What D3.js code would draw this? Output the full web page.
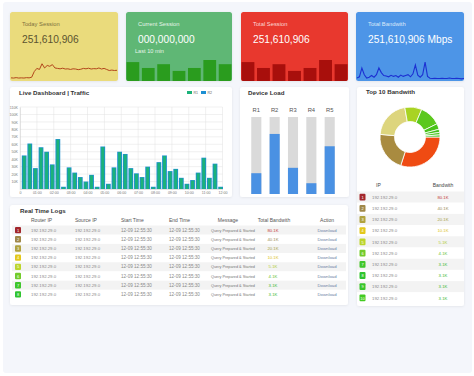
<!DOCTYPE html>
<html>
<head>
<meta charset="utf-8">
<script src="https://cdn.jsdelivr.net/npm/d3@7"></script>
<style>
  html, body { margin: 0; padding: 0; background: #fff; }
  svg { display: block; font-family: "Liberation Sans", Arial, sans-serif; }
</style>
</head>
<body>
<div id="chart"></div>
<script>
// ---- data ----
let todaySession = [15, 14, 16, 14, 15, 14, 16, 15, 18, 45, 60, 55, 82, 62, 74, 70, 78, 62, 60, 58, 61, 57,
  58, 55, 58, 57, 54, 56, 60, 58, 61, 57, 59, 58, 62, 57, 60, 55, 50, 52, 50, 51];
let currentSession = [90, 62, 80, 48, 62, 100, 80];
let totalSession = [90, 62, 80, 48, 62, 100, 80];
let totalBandwidth = [14, 20, 62, 30, 14, 18, 26, 18, 30, 62, 40, 26, 24, 20, 27, 22, 26, 18, 28, 22, 26, 30,
  20, 34, 76, 28, 18, 30, 90, 22, 13, 12, 13, 12, 12, 13, 12, 12, 14, 12, 12, 13, 12, 10, 12];

let cardTitles = ["Today Session", "Current Session", "Total Session", "Total Bandwith"];
let cardValues = ["251,610,906", "000,000,000", "251,610,906", "251,610,906 Mbps"];

let trafficR1 = [45, 61, 28, 56, 50, 33, 67, 3, 29, 22, 16, 10, 19, 3, 57, 7, 29, 50, 47, 28, 21, 16, 30, 3,
  36, 45, 24, 27, 15, 7, 12, 22, 42, 15, 34, 3]; // in K
let trafficR2 = [45, 61, 28, 56, 50, 33, 67, 3, 29, 22, 16, 10, 19, 3, 57, 7, 29, 50, 47, 28, 21, 16, 30, 3,
  36, 45, 24, 27, 15, 7, 12, 22, 42, 15, 34, 3];
let hourLabels = ["0", "01:00", "02:00", "03:00", "04:00", "05:00", "06:00", "07:00", "08:00", "09:00", "10:00", "11:00", "12:00"];
let trafficTicks = [0, 10, 20, 30, 40, 50, 60, 70, 80, 90, 100, 110];

let devices = ["R1", "R2", "R3", "R4", "R5"];
let deviceLoad = [27, 78, 34, 14, 62];

let topShares = [108, 77, 75, 33, 41, 11, 6, 5, 4];
let topColors = ["#ef4b13", "#a98b40", "#ddd57d", "#a9d323", "#5cc81e", "#4ac31a", "#3fc018", "#4ac620", "#37bd16"];

let ranks = [1, 2, 3, 4, 5, 6, 7, 8, 9, 10];
let rankColors = ["#a3262c", "#a08849", "#b0a23e", "#e3c81c", "#bcd52a", "#72cb2b", "#3fc62b", "#2fc42f", "#38c52a", "#42ca20"];
let bwValues = ["80.1K", "40.1K", "20.1K", "10.1K", "5.1K", "4.1K", "3.1K", "3.1K", "3.1K", "3.1K"];
let bwColors = ["#c33a36", "#9a8a52", "#a8a042", "#dcc41e", "#b0cc34", "#66c032", "#3cb832", "#3cb832", "#3cb832", "#3cb832"];
let ipText = "192.192.29.0";
let timeText = "12-09 12:55:30";
let msgText = "Query Prepared & Started";
let logHeaders = ["Router IP", "Source IP", "Start Time", "End Time", "Message", "Total Bandwith", "Action"];

// ---- svg ----
let svg = d3.select("#chart").append("svg").attr("width", 474).attr("height", 376);
let defs = svg.append("defs");
defs.append("filter").attr("id", "sh").attr("x", "-5%").attr("y", "-5%").attr("width", "110%").attr("height", "115%")
  .append("feDropShadow").attr("dx", 0).attr("dy", 0.5).attr("stdDeviation", 0.8)
  .attr("flood-color", "#000").attr("flood-opacity", 0.08);

svg.append("rect").attr("width", 474).attr("height", 376).attr("fill", "#fff");
svg.append("rect").attr("x", 3).attr("y", 2).attr("width", 469).attr("height", 371).attr("rx", 3).attr("fill", "#f4f6fb");

// ---- top cards ----
let cards = [
  { x: 10, w: 108, fill: "#eadb7c", title: "#7d7140", value: "#5b5330" },
  { x: 126, w: 106, fill: "#5fb775", title: "#e6f4e8", value: "#fff" },
  { x: 241, w: 107, fill: "#e8392d", title: "#fbd9d5", value: "#fff" },
  { x: 356, w: 108, fill: "#4e95e7", title: "#dce9fa", value: "#fff" }
];
let cardY = 12, cardH = 69;

cards.forEach(function (c, i) {
  defs.append("clipPath").attr("id", "clip" + i)
    .append("rect").attr("x", c.x).attr("y", cardY).attr("width", c.w).attr("height", cardH).attr("rx", 2.5);
  let g = svg.append("g");
  g.append("rect").attr("x", c.x).attr("y", cardY).attr("width", c.w).attr("height", cardH)
    .attr("rx", 2.5).attr("fill", c.fill).attr("filter", "url(#sh)");
  g.append("text").attr("x", c.x + 12).attr("y", 26).attr("font-size", 5.8).attr("fill", c.title).text(cardTitles[i]);
  g.append("text").attr("x", c.x + 12).attr("y", 42.5).attr("font-size", 10.2).attr("fill", c.value).text(cardValues[i]);
  c.g = g.append("g").attr("clip-path", "url(#clip" + i + ")");
});
svg.append("text").attr("x", 135).attr("y", 53).attr("font-size", 5.6).attr("fill", "#e6f4e8").text("Last 10 min");

// card 1 sparkline
let sx1 = d3.scaleLinear().domain([0, todaySession.length - 1]).range([11, 117]);
let sy = d3.scaleLinear().domain([0, 100]).range([81, 60]);
cards[0].g.append("path").datum(todaySession)
  .attr("d", d3.line().x((d, i) => sx1(i)).y(d => sy(d)))
  .attr("fill", "none").attr("stroke", "#b2461c").attr("stroke-width", 1);

// card 2 / 3 bars
function miniBars(card, values, color) {
  let bx = d3.scaleBand().domain(d3.range(values.length)).range([card.x + 0.5, card.x + card.w - 0.5]).paddingInner(0.17);
  card.g.selectAll("rect.mb").data(values).enter().append("rect").attr("class", "mb")
    .attr("x", (d, i) => bx(i)).attr("width", bx.bandwidth())
    .attr("y", d => sy(d)).attr("height", d => sy(0) - sy(d))
    .attr("fill", color);
}
miniBars(cards[1], currentSession, "#2a9c1e");
miniBars(cards[2], totalSession, "#a80f0c");

// card 4 line
let sx4 = d3.scaleLinear().domain([0, totalBandwidth.length - 1]).range([357, 464]);
cards[3].g.append("path").datum(totalBandwidth)
  .attr("d", d3.line().x((d, i) => sx4(i)).y(d => sy(d)))
  .attr("fill", "none").attr("stroke", "#1c30d2").attr("stroke-width", 1.1);

// ---- panel helper ----
function panel(x, y, w, h) {
  return svg.append("rect").attr("x", x).attr("y", y).attr("width", w).attr("height", h)
    .attr("rx", 2.5).attr("fill", "#fff").attr("filter", "url(#sh)");
}
function title(x, y, t) {
  svg.append("text").attr("x", x).attr("y", y).attr("font-size", 6.2).attr("font-weight", 600)
    .attr("fill", "#333").text(t);
}

// ---- Live Dashboard | Traffic ----
panel(10, 87, 222, 110);
title(19, 95, "Live Dashboard | Traffic");

let tx = d3.scaleLinear().domain([0, 12]).range([20, 222.5]);
let tb = d3.scaleBand().domain(d3.range(trafficR1.length)).range([21.8, 223]).paddingInner(0.15);
let ty = d3.scaleLinear().domain([0, 110]).range([189, 107]);

let tg = svg.append("g");
tg.append("g").selectAll("line").data(trafficTicks).enter().append("line")
  .attr("x1", tx(0)).attr("x2", tx(12)).attr("y1", d => ty(d)).attr("y2", d => ty(d))
  .attr("stroke", "#e0e0e0").attr("stroke-width", 0.5);
tg.append("g").selectAll("line").data(d3.range(13)).enter().append("line")
  .attr("x1", d => tx(d)).attr("x2", d => tx(d)).attr("y1", ty(110)).attr("y2", ty(0) + 1.5)
  .attr("stroke", "#e0e0e0").attr("stroke-width", 0.5);

let yAxis = tg.append("g").attr("transform", "translate(" + tx(0) + ",0)")
  .call(d3.axisLeft(ty).tickValues(trafficTicks.slice(1)).tickSize(0).tickPadding(2).tickFormat(d => d + "K"));
yAxis.select(".domain").attr("stroke", "#ccc").attr("stroke-width", 0.5);
yAxis.selectAll("text").attr("font-size", 3.6).attr("fill", "#777").attr("font-family", null);

let xAxis = tg.append("g").attr("transform", "translate(0," + ty(0) + ")")
  .call(d3.axisBottom(tx).tickValues(d3.range(13)).tickSize(0).tickPadding(2.5).tickFormat(d => hourLabels[d]));
xAxis.select(".domain").attr("stroke", "#ccc").attr("stroke-width", 0.5);
xAxis.selectAll("text").attr("font-size", 3.6).attr("fill", "#777").attr("font-family", null);

// R2 (blue) drawn full width behind, R1 (green) inset so blue shows on both edges
tg.append("g").selectAll("rect").data(trafficR2).enter().append("rect")
  .attr("x", (d, i) => tb(i)).attr("width", tb.bandwidth())
  .attr("y", d => ty(d)).attr("height", d => ty(0) - ty(d)).attr("fill", "#1d8fd2");
tg.append("g").selectAll("rect").data(trafficR1).enter().append("rect")
  .attr("x", (d, i) => tb(i) + 0.9).attr("width", tb.bandwidth() - 1.8)
  .attr("y", d => ty(d) + 0.6).attr("height", d => Math.max(0, ty(0) - ty(d) - 0.6)).attr("fill", "#1cb27a");

// legend
let legend = [["R1", "#1cb27a"], ["R2", "#1d8fd2"]];
legend.forEach(function (l, i) {
  svg.append("rect").attr("x", 187 + i * 14).attr("y", 91).attr("width", 5).attr("height", 3).attr("fill", l[1]);
  svg.append("text").attr("x", 193.5 + i * 14).attr("y", 94).attr("font-size", 3.6).attr("fill", "#666").text(l[0]);
});

// ---- Device Load ----
panel(240, 87, 109, 110);
title(248, 95, "Device Load");
let dx = d3.scaleBand().domain(devices).range([243, 343]).padding(0.45);
let dy = d3.scaleLinear().domain([0, 100]).range([194, 117]);
svg.append("g").selectAll("text").data(devices).enter().append("text")
  .attr("x", d => dx(d) + dx.bandwidth() / 2).attr("y", 111.5).attr("text-anchor", "middle")
  .attr("font-size", 5.8).attr("fill", "#555").text(d => d);
svg.append("g").selectAll("rect").data(devices).enter().append("rect")
  .attr("x", d => dx(d)).attr("width", dx.bandwidth()).attr("y", dy(100)).attr("height", dy(0) - dy(100))
  .attr("fill", "#dadada");
svg.append("g").selectAll("rect").data(deviceLoad).enter().append("rect")
  .attr("x", (d, i) => dx(devices[i])).attr("width", dx.bandwidth())
  .attr("y", d => dy(d)).attr("height", d => dy(0) - dy(d)).attr("fill", "#4a91e3");

// ---- Top 10 Bandwith ----
panel(357, 87, 107, 219);
title(366, 94, "Top 10 Bandwith");
let pie = d3.pie().sort(null).startAngle(Math.PI / 2).endAngle(Math.PI / 2 + 2 * Math.PI);
let arc = d3.arc().innerRadius(15.5).outerRadius(30);
svg.append("g").attr("transform", "translate(410,137)")
  .selectAll("path").data(pie(topShares)).enter().append("path")
  .attr("d", arc).attr("fill", (d, i) => topColors[i]).attr("stroke", "#fff").attr("stroke-width", 0.8);

svg.append("text").attr("x", 376).attr("y", 186.5).attr("font-size", 5).attr("fill", "#444").text("IP");
svg.append("text").attr("x", 443).attr("y", 186.5).attr("font-size", 5).attr("fill", "#444")
  .attr("text-anchor", "middle").text("Bandwith");

let ry = d3.scaleBand().domain(ranks).range([191.5, 303.5]);
let rg = svg.append("g").selectAll("g").data(ranks).enter().append("g");
rg.append("rect").attr("x", 357).attr("width", 107).attr("y", d => ry(d)).attr("height", ry.bandwidth())
  .attr("fill", (d, i) => i % 2 === 0 ? "#f3f3f3" : "#fff");
rg.append("rect").attr("x", 359.5).attr("width", 6).attr("y", d => ry(d) + 2.2).attr("height", 6.8).attr("rx", 1)
  .attr("fill", (d, i) => rankColors[i]);
rg.append("text").attr("x", 362.5).attr("y", d => ry(d) + 7.2).attr("text-anchor", "middle")
  .attr("font-size", 4).attr("fill", "#fff").text(d => d);
rg.append("text").attr("x", 372).attr("y", d => ry(d) + 7.2).attr("font-size", 4.3).attr("fill", "#888").text(ipText);
rg.append("text").attr("x", 443).attr("y", d => ry(d) + 7.2).attr("font-size", 4.3).attr("text-anchor", "middle")
  .attr("fill", (d, i) => bwColors[i]).text((d, i) => bwValues[i]);

// ---- Real Time Logs ----
panel(10, 205, 338, 100);
title(20, 212.5, "Real Time Logs");
let colX = [31, 75, 121, 169, 228, 274, 327];
let colAnchor = ["start", "start", "start", "start", "middle", "middle", "middle"];
svg.append("g").selectAll("text").data(logHeaders).enter().append("text")
  .attr("x", (d, i) => colX[i]).attr("y", 221.5).attr("text-anchor", (d, i) => colAnchor[i])
  .attr("font-size", 5).attr("fill", "#555").text(d => d);

let logRanks = ranks.slice(0, 8);
let ly = d3.scaleBand().domain(logRanks).range([225.5, 299]);
let lg = svg.append("g").selectAll("g").data(logRanks).enter().append("g");
lg.append("rect").attr("x", 12).attr("width", 334).attr("y", d => ly(d)).attr("height", ly.bandwidth())
  .attr("fill", (d, i) => i % 2 === 0 ? "#f3f3f3" : "#fff");
lg.append("rect").attr("x", 15).attr("width", 6).attr("y", d => ly(d) + 1.4).attr("height", 6.4).attr("rx", 1)
  .attr("fill", (d, i) => rankColors[i]);
lg.append("text").attr("x", 18).attr("y", d => ly(d) + 6.2).attr("text-anchor", "middle")
  .attr("font-size", 4).attr("fill", "#fff").text(d => d);
let rowText = function (x, anchor, size, color, fn) {
  lg.append("text").attr("x", x).attr("y", d => ly(d) + 6.2).attr("text-anchor", anchor)
    .attr("font-size", size).attr("fill", color).text(fn);
};
rowText(31, "start", 4.3, "#888", () => ipText);
rowText(75, "start", 4.3, "#888", () => ipText);
rowText(121, "start", 4.6, "#888", () => timeText);
rowText(169, "start", 4.6, "#888", () => timeText);
rowText(233, "middle", 3.8, "#777", () => msgText);
lg.append("text").attr("x", 273).attr("y", d => ly(d) + 6.2).attr("text-anchor", "middle")
  .attr("font-size", 4.3).attr("fill", (d, i) => bwColors[i]).text((d, i) => bwValues[i]);
rowText(327, "middle", 4.3, "#6b7fa3", () => "Download");
</script>
</body>
</html>
